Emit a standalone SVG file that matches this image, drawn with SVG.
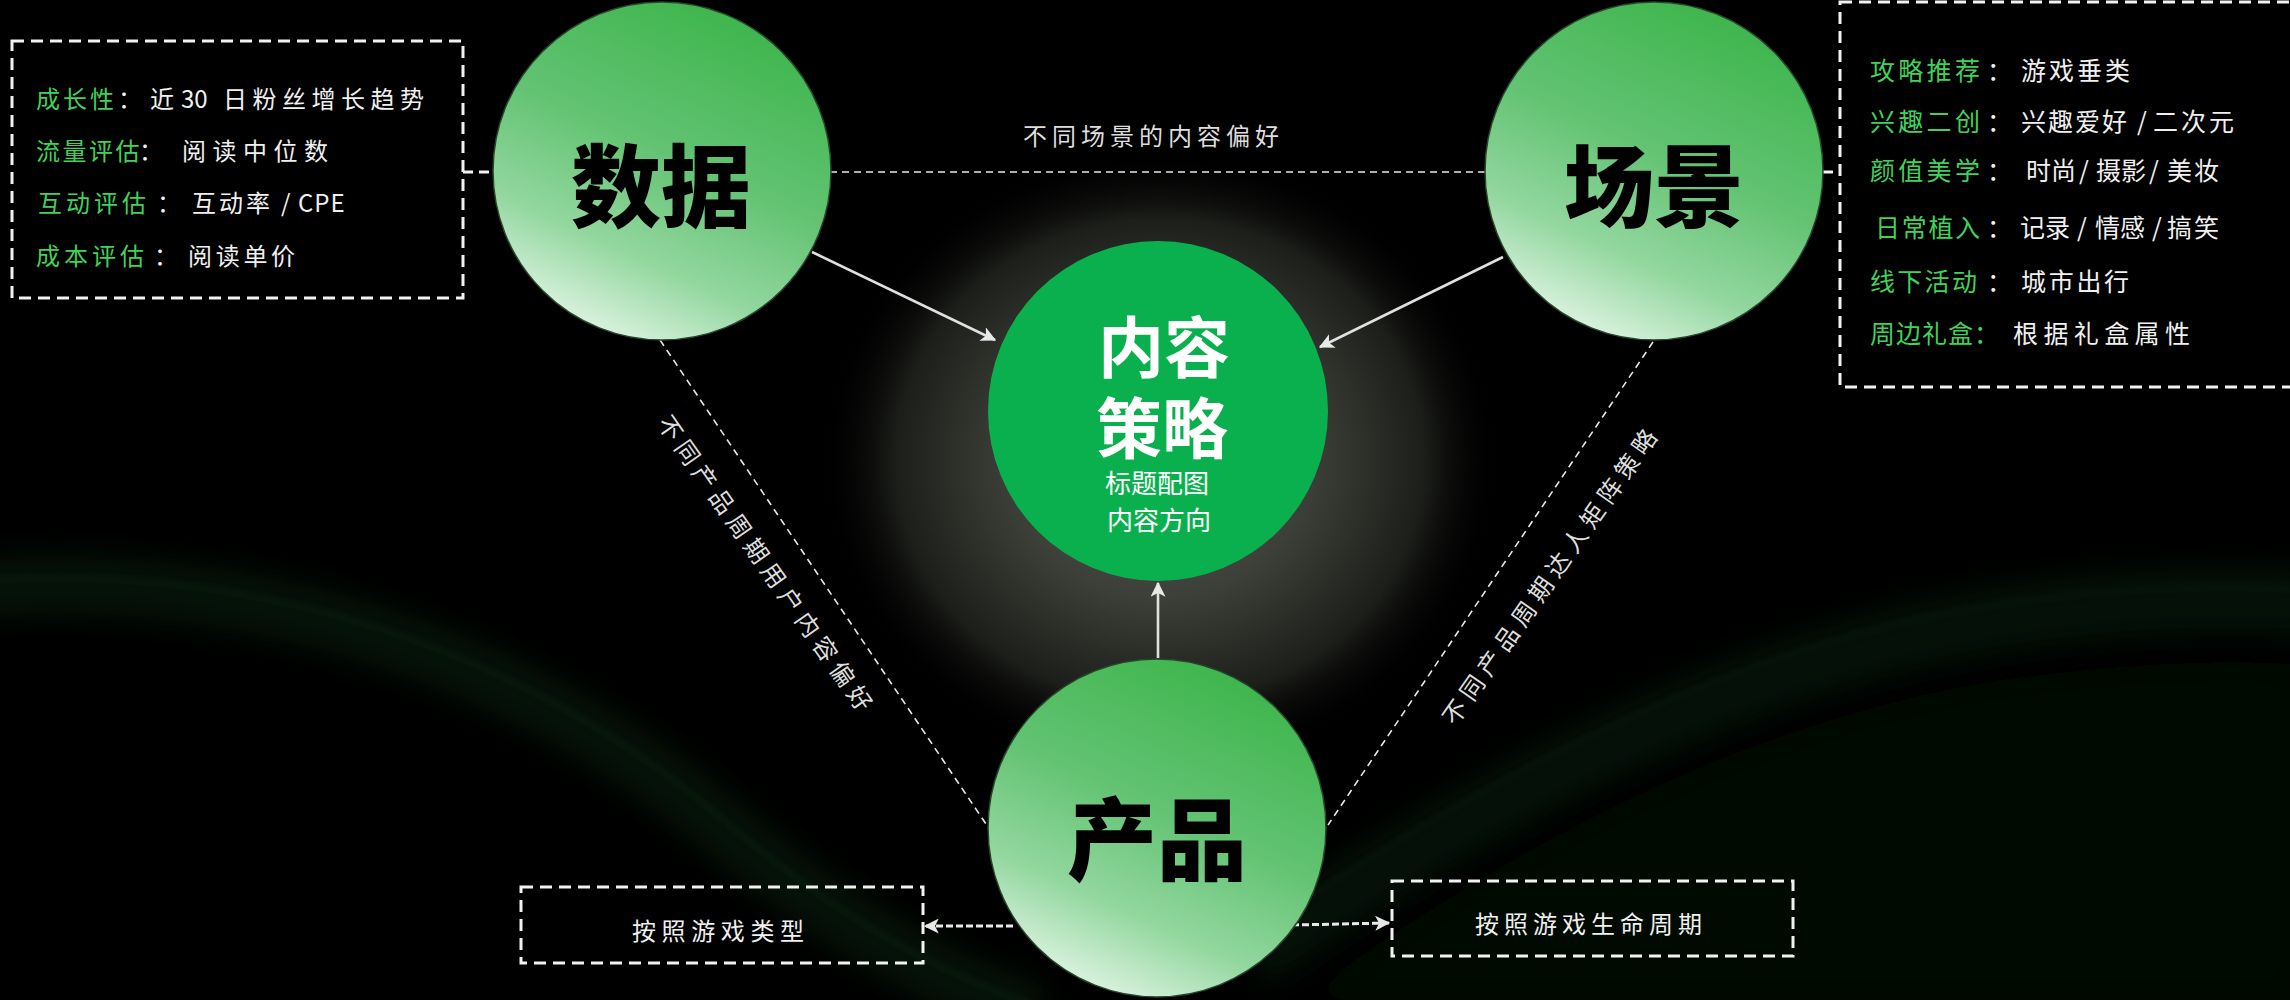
<svg xmlns="http://www.w3.org/2000/svg" width="2290" height="1000" viewBox="0 0 2290 1000">
<defs>
<style>
text{font-family:"Noto Sans CJK SC","Noto Sans",sans-serif;}
.box{fill:none;stroke:#f2f2f2;stroke-width:3;stroke-dasharray:12 7;}
.item{font-size:24px;fill:#f0f0f0;}
.ritem{font-size:25px;fill:#f0f0f0;}
.g{fill:#3fd35c;}
.big{font-size:90px;font-weight:900;fill:#000;text-anchor:middle;}
.mid{font-size:66px;font-weight:700;fill:#fff;}
.sub{font-size:26px;font-weight:400;fill:#fff;}
.lbl{font-size:24px;fill:#dedede;letter-spacing:6px;text-anchor:middle;}
.thin{fill:none;stroke:#e8e8e8;stroke-width:1.6;stroke-dasharray:7 5;}
.solid{fill:none;stroke:#e0e0e0;stroke-width:2.6;}
.thick{fill:none;stroke:#e8e8e8;stroke-width:3;stroke-dasharray:7 3;}
.stub{fill:none;stroke:#f2f2f2;stroke-width:3;stroke-dasharray:10 6;}
.orb{fill:url(#orbGrad);stroke:#27452b;stroke-width:1.5;}
</style>
<linearGradient id="orbGrad" x1="0.72" y1="0.02" x2="0.28" y2="0.98">
<stop offset="0" stop-color="#3db54c"/>
<stop offset="0.45" stop-color="#63c373"/>
<stop offset="0.75" stop-color="#93d79f"/>
<stop offset="1" stop-color="#e0f4e4"/>
</linearGradient>
<radialGradient id="glow" cx="0.5" cy="0.5" r="0.5">
<stop offset="0" stop-color="#5a5d53"/>
<stop offset="0.45" stop-color="#3c3f37"/>
<stop offset="0.78" stop-color="#1c1e1a"/>
<stop offset="1" stop-color="#000" stop-opacity="0"/>
</radialGradient>
<filter id="blur" x="-20%" y="-20%" width="140%" height="140%"><feGaussianBlur stdDeviation="16"/></filter>
<filter id="blur2" x="-20%" y="-20%" width="140%" height="140%"><feGaussianBlur stdDeviation="3"/></filter>
<marker id="ah" viewBox="0 0 12 12" refX="11" refY="6" markerWidth="15" markerHeight="15" markerUnits="userSpaceOnUse" orient="auto">
<path d="M0,0 L12,6 L0,12 L3,6 Z" fill="#e8e8e8"/>
</marker>
</defs>

<g id="background">
<rect x="0" y="0" width="2290" height="1000" fill="#000"/>
<path d="M-40 590 C 250 565, 520 655, 720 825 C 820 910, 920 975, 1040 1015" fill="none" stroke="#112a13" stroke-width="60" opacity="0.45" filter="url(#blur)"/>
<path d="M-40 582 C 250 557, 520 647, 720 817 C 820 902, 920 967, 1040 1007" fill="none" stroke="#1a3d1c" stroke-width="3" opacity="0.3" filter="url(#blur2)"/>
<path d="M1250 960 C 1450 820, 1700 680, 1950 630 C 2100 600, 2220 600, 2320 605" fill="none" stroke="#112a13" stroke-width="70" opacity="0.4" filter="url(#blur)"/>
<path d="M1240 945 C 1440 805, 1690 665, 1940 615 C 2090 585, 2220 585, 2320 590" fill="none" stroke="#1a3d1c" stroke-width="3" opacity="0.25" filter="url(#blur2)"/>
<path d="M1300 1000 C 1500 850, 1750 720, 2000 680 C 2150 660, 2250 660, 2300 665 L2300 1000 Z" fill="#050d05" opacity="0.8" filter="url(#blur)"/>
<rect x="820" y="150" width="680" height="620" fill="url(#glow)"/>
</g>

<g id="connectors">
<line class="thin" x1="830" y1="172" x2="1485" y2="172"/>
<line class="stub" x1="463" y1="172" x2="493" y2="172"/>
<line class="stub" x1="1823" y1="172" x2="1840" y2="172"/>
<line class="thin" x1="660" y1="340" x2="988" y2="827"/>
<line class="thin" x1="1653" y1="342" x2="1328" y2="825"/>
<line class="solid" x1="812" y1="252" x2="995" y2="340" marker-end="url(#ah)"/>
<line class="solid" x1="1503" y1="257" x2="1320" y2="347" marker-end="url(#ah)"/>
<line class="solid" x1="1158" y1="658" x2="1158" y2="583" marker-end="url(#ah)"/>
<line class="thick" x1="1013" y1="926" x2="925" y2="926" marker-end="url(#ah)"/>
<line class="thick" x1="1292" y1="925" x2="1389" y2="923" marker-end="url(#ah)"/>
<text class="lbl" x="1023" y="145" style="letter-spacing:5px;text-anchor:start">不同场景的内容偏好</text>
<text class="lbl" transform="translate(766,566) rotate(55)" x="0" y="8">不同产品周期用户内容偏好</text>
<text class="lbl" transform="translate(1552,575) rotate(-55)" x="0" y="8">不同产品周期达人矩阵策略</text>
</g>

<g id="node-data">
<circle class="orb" cx="662" cy="171" r="169"/>
<text class="big" x="661" y="220">数据</text>
</g>

<g id="node-scene">
<circle class="orb" cx="1654" cy="171" r="169"/>
<text class="big" x="1654" y="220">场景</text>
</g>

<g id="node-product">
<circle class="orb" cx="1157" cy="828" r="169"/>
<text class="big" x="1157" y="873">产品</text>
</g>

<g id="node-content">
<circle cx="1158" cy="411" r="170" fill="#0bb04e"/>
<text text-anchor="middle"><tspan class="mid" x="1164" y="372">内容</tspan><tspan class="mid" x="1162" y="453">策略</tspan><tspan class="sub" x="1157" y="493">标题配图</tspan><tspan class="sub" x="1159" y="530">内容方向</tspan></text>
</g>

<g id="panel-data">
<rect class="box" x="12" y="41" width="451" height="257"/>
<text class="item" y="108"><tspan class="g" x="36" letter-spacing="3">成长性</tspan><tspan x="118">：</tspan><tspan x="150">近</tspan><tspan x="181">30</tspan><tspan x="223" letter-spacing="5.5">日粉丝增长趋势</tspan></text>
<text class="item" y="160"><tspan class="g" x="36" letter-spacing="2.5">流量评估</tspan><tspan x="139">：</tspan><tspan x="182" letter-spacing="6.5">阅读中位数</tspan></text>
<text class="item" y="212"><tspan class="g" x="38" letter-spacing="4">互动评估</tspan><tspan x="157">：</tspan><tspan x="192" letter-spacing="3">互动率</tspan><tspan x="281">/</tspan><tspan x="298" letter-spacing="1">CPE</tspan></text>
<text class="item" y="265"><tspan class="g" x="36" letter-spacing="4">成本评估</tspan><tspan x="154">：</tspan><tspan x="188" letter-spacing="3.7">阅读单价</tspan></text>
</g>

<g id="panel-scene">
<rect class="box" x="1840" y="2" width="500" height="385"/>
<text class="ritem" y="80"><tspan class="g" x="1870" letter-spacing="3.3">攻略推荐</tspan><tspan x="1987">：</tspan><tspan x="2021" letter-spacing="3">游戏垂类</tspan></text>
<text class="ritem" y="131"><tspan class="g" x="1870" letter-spacing="3.3">兴趣二创</tspan><tspan x="1987">：</tspan><tspan x="2021" letter-spacing="2">兴趣爱好</tspan><tspan x="2137">/</tspan><tspan x="2153" letter-spacing="3">二次元</tspan></text>
<text class="ritem" y="180"><tspan class="g" x="1870" letter-spacing="3.3">颜值美学</tspan><tspan x="1987">：</tspan><tspan x="2026">时尚</tspan><tspan x="2079">/</tspan><tspan x="2096">摄影</tspan><tspan x="2149">/</tspan><tspan x="2167" letter-spacing="2">美妆</tspan></text>
<text class="ritem" y="237"><tspan class="g" x="1875" letter-spacing="1.7">日常植入</tspan><tspan x="1987">：</tspan><tspan x="2020">记录</tspan><tspan x="2077">/</tspan><tspan x="2095">情感</tspan><tspan x="2152">/</tspan><tspan x="2167" letter-spacing="2">搞笑</tspan></text>
<text class="ritem" y="291"><tspan class="g" x="1870" letter-spacing="2.3">线下活动</tspan><tspan x="1987">：</tspan><tspan x="2021" letter-spacing="2.7">城市出行</tspan></text>
<text class="ritem" y="343"><tspan class="g" x="1870" letter-spacing="1">周边礼盒：</tspan><tspan x="2013" letter-spacing="5.4">根据礼盒属性</tspan></text>
</g>

<g id="box-type">
<rect class="box" x="521" y="887" width="402" height="76"/>
<text class="item" x="632" y="940" letter-spacing="5.6">按照游戏类型</text>
</g>

<g id="box-lifecycle">
<rect class="box" x="1392" y="881" width="401" height="75"/>
<text class="item" x="1475" y="933" letter-spacing="5">按照游戏生命周期</text>
</g>
</svg>
